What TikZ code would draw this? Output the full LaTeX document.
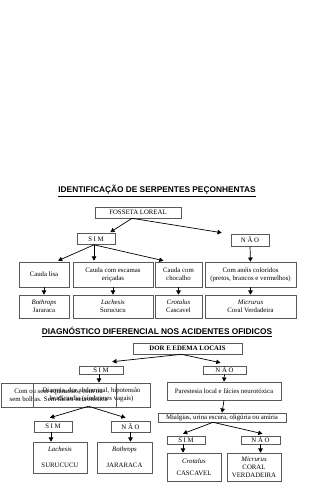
\documentclass[tikz,border=0pt]{standalone}
\usepackage{fontspec}
\setmainfont{Liberation Serif}
\setsansfont{Liberation Sans}
\usetikzlibrary{arrows.meta,calc}

\begin{document}
\begin{tikzpicture}[x=0.03cm, y=-0.03cm,
    box/.style={draw=black!65, line width=0.5pt, inner sep=0pt, align=center,
        font=\fontsize{5.8}{6.8}\selectfont},
    titulo/.style={font=\sffamily\bfseries\fontsize{7.1}{8}\selectfont},
    seta/.style={-{Triangle[length=3.6pt,width=3.8pt]}, line width=0.6pt},
]
\useasboundingbox (0,0) rectangle (320,500);

% Identificacao
\node[titulo] (tit1) at (157, 191) {\underline{IDENTIFICAÇÃO DE SERPENTES PEÇONHENTAS}};
\node[box, minimum width=2.58cm, minimum height=0.33cm] (loreal) at (138, 212.5) {FOSSETA LOREAL};
\node[box, minimum width=1.14cm, minimum height=0.33cm] (sim1) at (96, 239) {S I M};
\node[box, minimum width=1.14cm, minimum height=0.36cm] (nao1) at (250, 240) {N Ã O};

\node[box, minimum width=1.50cm, minimum height=0.75cm] (lisa) at (44, 274.5) {Cauda lisa};
\node[box, minimum width=2.40cm, minimum height=0.75cm] (escamas) at (113, 274.5) {Cauda com escamas\\eriçadas};
\node[box, minimum width=1.41cm, minimum height=0.75cm] (chocalho) at (178.5, 274.5) {Cauda com\\chocalho};
\node[box, minimum width=2.73cm, minimum height=0.75cm] (aneis) at (250.5, 274.5) {Com anéis coloridos\\(pretos, brancos e vermelhos)};

\node[box, minimum width=1.50cm, minimum height=0.69cm] (bothrops) at (44, 306.5) {\textit{Bothrops}\\Jararaca};
\node[box, minimum width=2.40cm, minimum height=0.69cm] (lachesis) at (113, 306.5) {\textit{Lachesis}\\Surucucu};
\node[box, minimum width=1.41cm, minimum height=0.69cm] (crotalus) at (178.5, 306.5) {\textit{Crotalus}\\Cascavel};
\node[box, minimum width=2.73cm, minimum height=0.69cm] (micrurus) at (250.5, 306.5) {\textit{Micrurus}\\Coral Verdadeira};

\draw[seta] ($(loreal.south)+(-6,0)$) -- ($(sim1.north east)+(-5,-1)$);
\draw[seta] ($(loreal.south)+(-6,0)$) -- ($(nao1.north west)+(-9,-1)$);
\draw[seta] ($(sim1.south)+(-2,0)$) -- ($(lisa.north)+(14,-1)$);
\draw[seta] ($(sim1.south)+(-2,0)$) -- ($(sim1.south |- escamas.north)+(-2,-1)$);
\draw[seta] ($(sim1.south)+(-2,0)$) -- ($(chocalho.north)+(-15,-1)$);
\draw[seta] (nao1.south) -- (aneis.north);
\draw[seta] (lisa.south) -- (bothrops.north);
\draw[seta] (escamas.south) -- (lachesis.north);
\draw[seta] (chocalho.south) -- (crotalus.north);
\draw[seta] (aneis.south) -- (micrurus.north);

% Diagnostico diferencial
\node[titulo] (tit2) at (157, 332) {\underline{DIAGNÓSTICO DIFERENCIAL NOS ACIDENTES OFIDICOS}};
\node[box, minimum width=3.27cm, minimum height=0.33cm, font=\fontsize{5.8}{6.8}\selectfont\bfseries] (dor) at (187.5, 348.5) {DOR E EDEMA LOCAIS};
\node[box, minimum width=1.32cm, minimum height=0.24cm] (sim2) at (101, 370) {S I M};
\node[box, minimum width=1.29cm, minimum height=0.24cm] (nao2) at (224.5, 370) {N Ã O};

\node[box, minimum width=3.45cm, minimum height=0.72cm] (vaga1) at (58.5, 395) {Com ou sem equimoses, com ou\\sem bolhas. Sem fácies neurotóxica};
\node[box, minimum width=3.51cm, minimum height=0.72cm] (vaga2) at (91.5, 395) {Diarreia, dor abdominal, hipotensão\\bradicardia (síndromes vagais)};
\node[box, minimum width=3.42cm, minimum height=0.54cm] (parestesia) at (224, 391) {Parestesia local e fácies neurotóxica};
\node[box, minimum width=3.84cm, minimum height=0.27cm] (mialgias) at (222, 417.5) {Mialgias, urina escura, oligúria ou anúria};

\node[box, minimum width=1.14cm, minimum height=0.33cm] (sim3) at (53, 426.5) {S I M};
\node[box, minimum width=1.17cm, minimum height=0.33cm] (nao3) at (130.5, 426.5) {N Ã O};
\node[box, minimum width=1.62cm, minimum height=0.93cm] (lachesis2) at (60, 457.5) {\textit{Lachesis}\\[7pt]SURUCUCU};
\node[box, minimum width=1.65cm, minimum height=0.93cm] (bothrops2) at (124.5, 457.5) {\textit{Bothrops}\\[7pt]JARARACA};

\node[box, minimum width=1.14cm, minimum height=0.24cm] (sim4) at (186, 440) {S I M};
\node[box, minimum width=1.17cm, minimum height=0.24cm] (nao4) at (260.5, 440) {N Ã O};
\node[box, minimum width=1.62cm, minimum height=0.84cm] (crotalus2) at (194, 467) {\textit{Crotalus}\\[3pt]CASCAVEL};
\node[box, minimum width=1.62cm, minimum height=0.84cm] (micrurus2) at (254, 467) {\textit{Micrurus}\\CORAL\\VERDADEIRA};

\draw[seta] ($(dor.south)+(-6,0)$) -- ($(sim2.north east)+(-11,-4)$);
\draw[seta] ($(dor.south)+(-6,0)$) -- ($(nao2.north)+(-4,-3)$);
\draw[seta] ($(sim2.south)+(-2,0)$) -- ($(sim2.south |- vaga2.north)+(-2,0)$);
\draw[seta] (nao2.south) -- (parestesia.north);
\draw[seta] (parestesia.south) -- (mialgias.north);
\draw[seta] ($(vaga2.south)+(-3,-1)$) -- ($(sim3.north)+(-3,-3)$);
\draw[seta] ($(vaga2.south)+(-3,-1)$) -- ($(nao3.north)+(-5,-3)$);
\draw[seta] ($(sim3.south)+(-2,0)$) -- ($(sim3.south |- lachesis2.north)+(-2,0)$);
\draw[seta] (nao3.south) -- (nao3.south |- bothrops2.north);
\draw[seta] ($(mialgias.south)+(-9,0)$) -- ($(sim4.north)+(-3,-2)$);
\draw[seta] ($(mialgias.south)+(-9,0)$) -- ($(nao4.north)+(2,-2)$);
\draw[seta] ($(sim4.south)+(-3,0)$) -- ($(sim4.south |- crotalus2.north)+(-3,0)$);
\draw[seta] (nao4.south) -- (nao4.south |- micrurus2.north);
\end{tikzpicture}
\end{document}
